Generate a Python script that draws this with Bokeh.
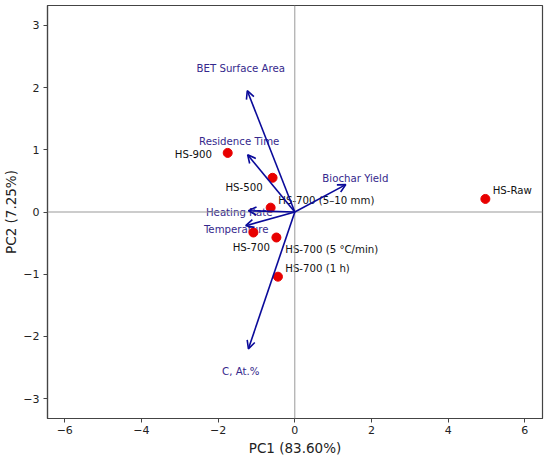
from bokeh.plotting import figure
from bokeh.models import ColumnDataSource, Arrow, OpenHead, Span, Range1d, FixedTicker
from bokeh.embed import file_html
from bokeh.resources import INLINE
from bokeh.core.properties import value

# Sample scores
samples = ["HS-Raw", "HS-900", "HS-500", "HS-700 (5–10 mm)", "HS-700", "HS-700 (5 °C/min)", "HS-700 (1 h)"]
pc1 = [4.97, -1.75, -0.58, -0.63, -1.08, -0.48, -0.44]
pc2 = [0.21, 0.95, 0.55, 0.07, -0.33, -0.41, -1.04]
sample_label_x = [5.16, -3.13, -1.81, -0.43, -1.62, -0.25, -0.25]
sample_label_y = [0.34, 0.92, 0.40, 0.19, -0.57, -0.61, -0.91]

# Variable loadings
variables = ["BET Surface Area", "Residence Time", "Biochar Yield", "Heating Rate", "Temperature", "C, At.%"]
load_x = [-1.24, -1.23, 1.33, -1.21, -1.28, -1.21]
load_y = [1.95, 0.92, 0.44, 0.02, -0.22, -2.20]
var_label_x = [-1.41, -1.45, 1.58, -1.45, -1.53, -1.41]
var_label_y = [2.31, 1.13, 0.54, 0.0, -0.28, -2.57]

x_ticks = [-6, -4, -2, 0, 2, 4, 6]
y_ticks = [-3, -2, -1, 0, 1, 2, 3]
x_title = "PC1 (83.60%)"
y_title = "PC2 (7.25%)"

FONT = "DejaVu Sans"

p = figure(width=550, height=462, output_backend="svg", toolbar_location=None,
           x_range=Range1d(-6.45, 6.46), y_range=Range1d(-3.32, 3.32),
           min_border_left=47, min_border_right=8, min_border_top=5, min_border_bottom=44)
p.grid.visible = False
p.outline_line_color = "#444444"
p.outline_line_width = 1.2

for ax in (p.xaxis[0], p.yaxis[0]):
    ax.axis_line_color = "#444444"
    ax.axis_line_width = 1.2
    ax.major_tick_line_color = "#444444"
    ax.major_tick_out = 4
    ax.major_tick_in = 0
    ax.minor_tick_line_color = None
    ax.major_label_text_font = FONT
    ax.major_label_text_font_size = "11px"
    ax.major_label_text_color = "#222222"
    ax.axis_label_text_font = FONT
    ax.axis_label_text_font_size = "13.5px"
    ax.axis_label_text_font_style = "normal"
    ax.axis_label_text_color = "#222222"

p.xaxis.major_label_standoff = 3
p.xaxis.axis_label_standoff = 3
p.yaxis.major_label_standoff = 4
p.yaxis.axis_label_standoff = 1

p.xaxis.ticker = FixedTicker(ticks=x_ticks)
p.yaxis.ticker = FixedTicker(ticks=y_ticks)
p.xaxis.major_label_overrides = {t: (str(t).replace("-", "\u2212")) for t in x_ticks}
p.yaxis.major_label_overrides = {t: (str(t).replace("-", "\u2212")) for t in y_ticks}
p.xaxis.axis_label = x_title
p.yaxis.axis_label = y_title

p.add_layout(Span(location=0, dimension="width", line_color="#999999", line_width=1))
p.add_layout(Span(location=0, dimension="height", line_color="#999999", line_width=1))

# loading arrows
for lx, ly in zip(load_x, load_y):
    p.add_layout(Arrow(x_start=0, y_start=0, x_end=lx, y_end=ly,
                       line_color="#0a0a9a", line_width=1.6,
                       end=OpenHead(size=8, line_color="#0a0a9a", line_width=1.6)))

vsrc = ColumnDataSource(dict(x=var_label_x, y=var_label_y, t=variables))
p.text(x="x", y="y", text="t", source=vsrc, text_align="center", text_baseline="middle",
       text_font=value(FONT), text_font_size="10.2px", text_color="#35288c")

ssrc = ColumnDataSource(dict(x=pc1, y=pc2))
p.scatter(x="x", y="y", source=ssrc, size=9, fill_color="#e80000", line_color="#e80000")

lsrc = ColumnDataSource(dict(x=sample_label_x, y=sample_label_y, t=samples))
p.text(x="x", y="y", text="t", source=lsrc, text_align="left", text_baseline="middle",
       text_font=value(FONT), text_font_size="10.2px", text_color="#111111")

open("out.html", "w").write(file_html(p, INLINE))
